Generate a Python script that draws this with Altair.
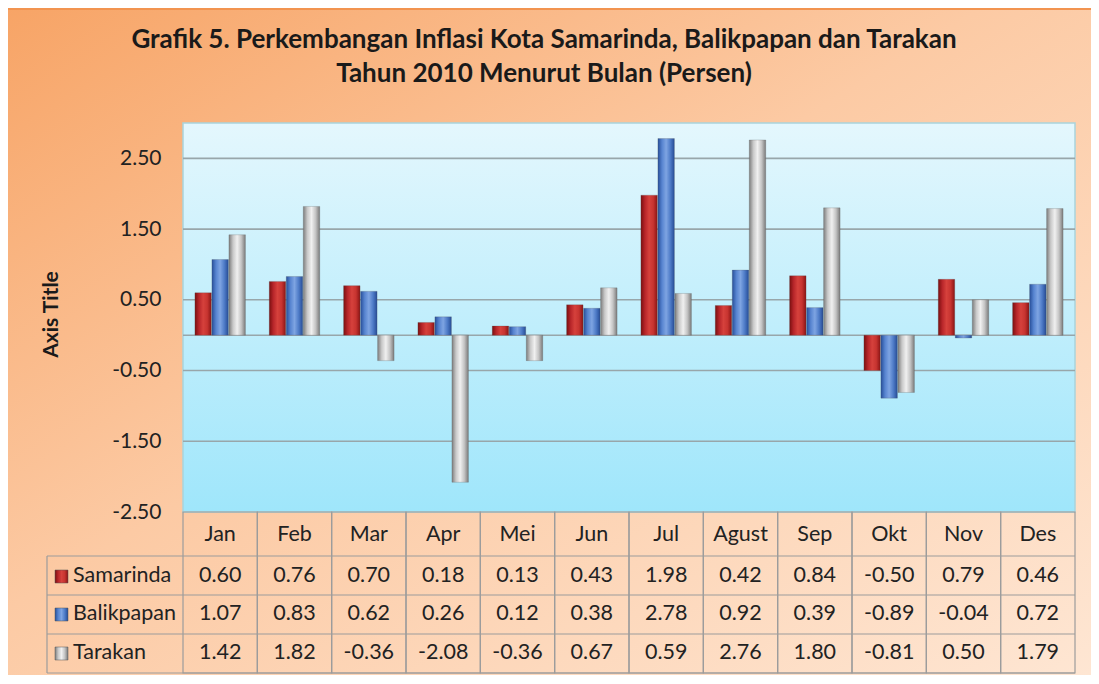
import altair as alt
import pandas as pd

months = ["Jan", "Feb", "Mar", "Apr", "Mei", "Jun", "Jul", "Agust", "Sep", "Okt", "Nov", "Des"]
series_names = ["Samarinda", "Balikpapan", "Tarakan"]
samarinda = [0.60, 0.76, 0.70, 0.18, 0.13, 0.43, 1.98, 0.42, 0.84, -0.50, 0.79, 0.46]
balikpapan = [1.07, 0.83, 0.62, 0.26, 0.12, 0.38, 2.78, 0.92, 0.39, -0.89, -0.04, 0.72]
tarakan = [1.42, 1.82, -0.36, -2.08, -0.36, 0.67, 0.59, 2.76, 1.80, -0.81, 0.50, 1.79]
y_ticks = [2.5, 1.5, 0.5, -0.5, -1.5, -2.5]
grid_vals = [2.5, 1.5, 0.5, 0.0, -0.5, -1.5]
title_lines = ["Grafik 5. Perkembangan Inflasi Kota Samarinda, Balikpapan dan Tarakan",
               "Tahun 2010 Menurut Bulan (Persen)"]
axis_title = "Axis Title"

W, H = 892, 389
FONT = "Lato"
TFS = 21.5

rows = []
for name, vals in zip(series_names, [samarinda, balikpapan, tarakan]):
    for m, v in zip(months, vals):
        rows.append({"month": m, "series": name, "value": v, "label": f"{v:.2f}"})
df = pd.DataFrame(rows)
one = pd.DataFrame({"k": [0]})
mdf = pd.DataFrame({"month": months})
gdf = pd.DataFrame({"g": grid_vals})


def hgrad(stops):
    n = len(stops)
    return alt.LinearGradient(
        gradient="linear",
        stops=[alt.GradientStop(color=c, offset=i / (n - 1)) for i, c in enumerate(stops)],
        x1=0, x2=1, y1=0, y2=0,
    )


fills = {
    "Samarinda": hgrad(["#7a0f10", "#b8262a", "#d6413c", "#c73430", "#8a1414"]),
    "Balikpapan": hgrad(["#274f9a", "#5784d0", "#7ea4e2", "#4f7cc8", "#264c96"]),
    "Tarakan": hgrad(["#7c7c7c", "#c9c9c9", "#f0f0f0", "#c4c4c4", "#7a7a7a"]),
}

xscale = alt.Scale(domain=months, paddingInner=0, paddingOuter=0)
yscale = alt.Scale(domain=[-2.5, 3.0], nice=False, zero=False)
X = alt.X("month:N", scale=xscale, axis=None)

bg = alt.Chart(one).mark_rect(
    fill=alt.LinearGradient(
        gradient="linear",
        stops=[alt.GradientStop(color="#f7a466", offset=0),
               alt.GradientStop(color="#fccaa4", offset=0.45),
               alt.GradientStop(color="#fee6d3", offset=1)],
        x1=0, x2=1, y1=0, y2=1,
    ),
).encode(x=alt.value(-175), x2=alt.value(W + 16), y=alt.value(-115), y2=alt.value(H + 163))

top_line = alt.Chart(one).mark_rule(color="#f29450", strokeWidth=2).encode(
    x=alt.value(-175), x2=alt.value(W + 16), y=alt.value(-114))

plot_bg = alt.Chart(one).mark_rect(
    fill=alt.LinearGradient(
        gradient="linear",
        stops=[alt.GradientStop(color="#e4f7fd", offset=0),
               alt.GradientStop(color="#9fe6fb", offset=1)],
        x1=0, x2=0, y1=0, y2=1,
    ),
    stroke="#a9d3dc", strokeWidth=1.5,
).encode(x=alt.value(0), x2=alt.value(W), y=alt.value(0), y2=alt.value(H))

grid = alt.Chart(gdf).mark_rule(color="#98a6aa", strokeWidth=1.6).encode(
    y=alt.Y("g:Q", scale=yscale,
            axis=alt.Axis(values=y_ticks, grid=False, domain=False, ticks=False,
                          labelExpr="replace(format(datum.value, '.2f'), '\u2212', '-')",
                          labelPadding=22, labelFontSize=21, labelColor="#222222", labelFont=FONT,
                          title=None, zindex=1)),
    x=alt.value(0), x2=alt.value(W),
)

bar_layers = []
for name in series_names:
    bar_layers.append(
        alt.Chart(df).transform_filter(alt.datum.series == name).mark_bar(
            fill=fills[name], stroke="#555555", strokeWidth=0.4, strokeOpacity=0.6
        ).encode(
            x=X,
            xOffset=alt.XOffset("series:N", scale=alt.Scale(domain=series_names, paddingInner=0.03, paddingOuter=0.7)),
            y=alt.Y("value:Q", scale=yscale),
        )
    )

# table
cell_rect = alt.Chart(mdf).mark_rect(fillOpacity=0, stroke="#9c9c9c", strokeWidth=1.2).encode(
    x=X, y=alt.value(H), y2=alt.value(H + 161)
)
hlines = [
    alt.Chart(one).mark_rule(color="#9c9c9c", strokeWidth=1.2).encode(
        x=alt.value(-136), x2=alt.value(W), y=alt.value(yy))
    for yy in [H + 44, H + 83, H + 122, H + 161]
]
vline_left = alt.Chart(one).mark_rule(color="#9c9c9c", strokeWidth=1.2).encode(
    x=alt.value(-136), y=alt.value(H + 44), y2=alt.value(H + 161))

header_text = alt.Chart(mdf).mark_text(font=FONT, fontSize=TFS, color="#222222").encode(
    x=X, y=alt.value(H + 23), text="month:N")

row_y = {"Samarinda": H + 64, "Balikpapan": H + 102, "Tarakan": H + 141}
value_layers = []
label_layers = []
for name in series_names:
    value_layers.append(
        alt.Chart(df).transform_filter(alt.datum.series == name).mark_text(
            font=FONT, fontSize=TFS, color="#222222").encode(
            x=X, y=alt.value(row_y[name]), text="label:N")
    )
    label_layers.append(
        alt.Chart(pd.DataFrame({"s": [name]})).mark_text(
            font=FONT, fontSize=TFS, color="#222222", align="left").encode(
            x=alt.value(-110), y=alt.value(row_y[name]), text="s:N")
    )
    label_layers.append(
        alt.Chart(one).mark_rect(fill=fills[name], stroke="#555555", strokeWidth=0.5).encode(
            x=alt.value(-128), x2=alt.value(-115), y=alt.value(row_y[name] - 6), y2=alt.value(row_y[name] + 7))
    )

title_layers = [
    alt.Chart(pd.DataFrame({"t": [title_lines[0]]})).mark_text(
        font=FONT, fontSize=26, fontWeight="bold", color="#1a1a1a").encode(
        x=alt.value(361), y=alt.value(-83), text="t:N"),
    alt.Chart(pd.DataFrame({"t": [title_lines[1]]})).mark_text(
        font=FONT, fontSize=26, fontWeight="bold", color="#1a1a1a").encode(
        x=alt.value(361), y=alt.value(-49), text="t:N"),
    alt.Chart(pd.DataFrame({"t": [axis_title]})).mark_text(
        font=FONT, fontSize=21, fontWeight="bold", color="#1a1a1a", angle=270).encode(
        x=alt.value(-131), y=alt.value(H / 2 - 3), text="t:N"),
]

chart = alt.layer(
    bg, top_line, plot_bg, grid, *bar_layers, cell_rect, *hlines, vline_left, header_text,
    *value_layers, *label_layers, *title_layers
).properties(
    width=W, height=H,
    autosize=alt.AutoSizeParams(type="none"),
    padding={"left": 175, "top": 115, "right": 16, "bottom": 163},
).configure_view(stroke=None)

chart.save("out.html", embed_options={"renderer": "svg", "actions": False})
